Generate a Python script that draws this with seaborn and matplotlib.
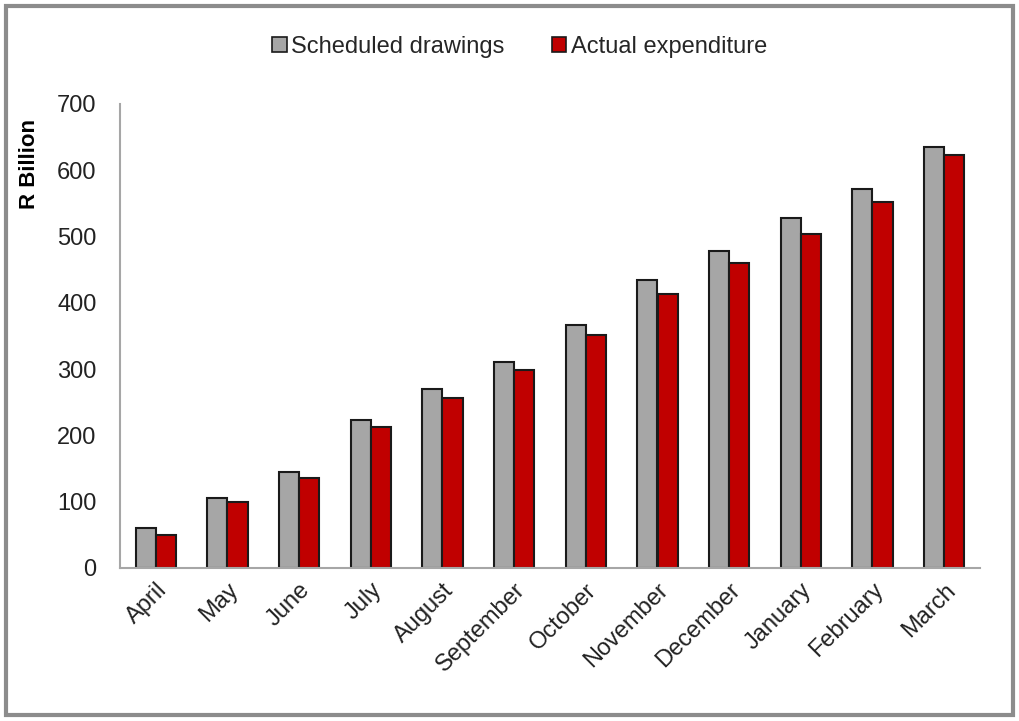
import matplotlib
matplotlib.use("Agg")
import matplotlib.pyplot as plt
import matplotlib.patches as mpatches
import seaborn as sns
import pandas as pd
from matplotlib import font_manager

months = ["April", "May", "June", "July", "August", "September", "October",
          "November", "December", "January", "February", "March"]
scheduled = [61, 106, 145, 224, 270, 311, 367, 434, 478, 528, 572, 635]
actual = [50, 100, 136, 213, 257, 299, 352, 413, 460, 504, 552, 623]
series_names = ["Scheduled drawings", "Actual expenditure"]
colors = ["#a6a6a6", "#c00000"]
yticks = [0, 100, 200, 300, 400, 500, 600, 700]

sns.set_theme(style="white")
avail = {f.name for f in font_manager.fontManager.ttflist}
fam = "Liberation Sans Narrow" if "Liberation Sans Narrow" in avail else "Liberation Sans"
plt.rcParams["font.family"] = [fam, "DejaVu Sans"]

df = pd.DataFrame({
    "Month": months * 2,
    "Value": scheduled + actual,
    "Series": [series_names[0]] * len(months) + [series_names[1]] * len(months),
})

fig = plt.figure(figsize=(10.19, 7.21), dpi=100)
ax = fig.add_axes([120 / 1019, 1 - 568 / 721, 860 / 1019, 464 / 721])
sns.barplot(data=df, x="Month", y="Value", hue="Series", palette=colors,
            width=0.56, gap=0, edgecolor="#1a1a1a", linewidth=1.5,
            saturation=1, ax=ax, legend=False)

ax.set_ylim(0, 700)
ax.set_yticks(yticks)
ax.set_xlim(-0.5, len(months) - 0.5)
ax.set_xlabel("")
ax.set_ylabel("R Billion", fontsize=16, fontweight="bold", color="black")
ax.yaxis.set_label_coords(-0.093, 0.87)
ax.tick_params(axis="y", labelsize=17, length=0, pad=17, colors="#222222")
ax.tick_params(axis="x", labelsize=17, length=0, pad=8, colors="#222222")
for lbl in ax.get_xticklabels():
    lbl.set_rotation(45)
    lbl.set_ha("right")
    lbl.set_rotation_mode("anchor")
for s in ["top", "right"]:
    ax.spines[s].set_visible(False)
for s in ["left", "bottom"]:
    ax.spines[s].set_color("#a6a6a6")
    ax.spines[s].set_linewidth(1.5)

handles = [mpatches.Patch(facecolor=c, edgecolor="#1a1a1a", linewidth=1.2, label=n)
           for c, n in zip(colors, series_names)]
fig.legend(handles=handles, loc="center", bbox_to_anchor=(0.51, 1 - 47 / 721),
           ncol=2, frameon=False, fontsize=17, handlelength=0.6, handleheight=0.6,
           handletextpad=0.2, columnspacing=2.0)

border = mpatches.Rectangle((6 / 1019, 6 / 721), 1 - 12 / 1019, 1 - 12 / 721,
                            transform=fig.transFigure, fill=False,
                            edgecolor="#8c8c8c", linewidth=3)
fig.patches.append(border)

fig.savefig("out.png", dpi=100, facecolor="white")
